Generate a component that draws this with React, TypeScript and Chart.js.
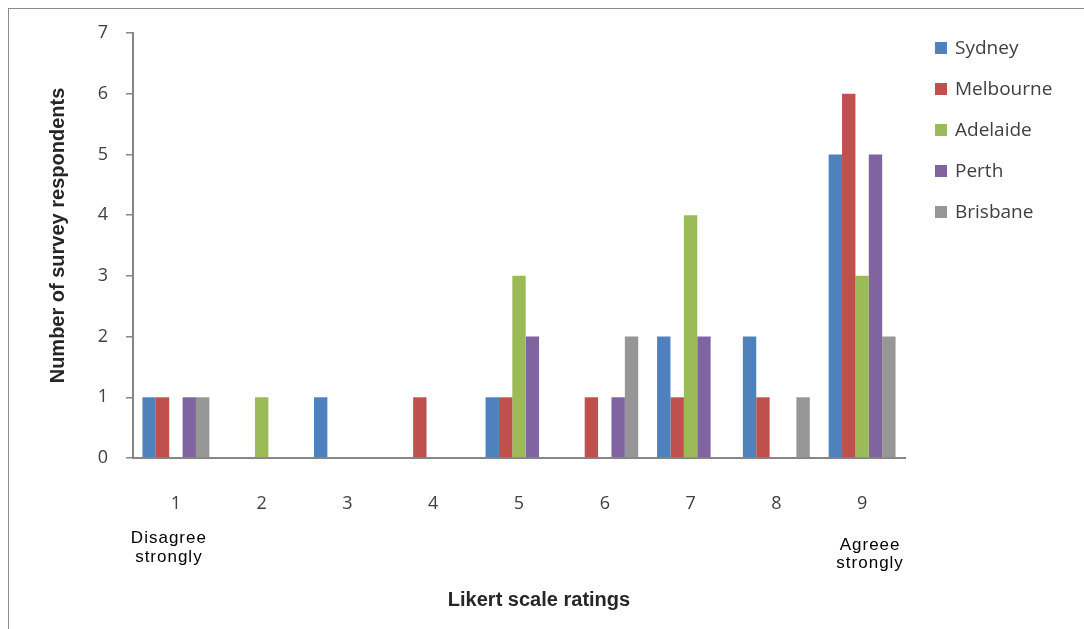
import React, { useEffect, useRef } from "react";
import { Chart, registerables } from "chart.js";

Chart.register(...registerables);

const ratings = ["1", "2", "3", "4", "5", "6", "7", "8", "9"];
const cities = ["Sydney", "Melbourne", "Adelaide", "Perth", "Brisbane"];
const sydney = [1, 0, 1, 0, 1, 0, 2, 2, 5];
const melbourne = [1, 0, 0, 1, 1, 1, 1, 1, 6];
const adelaide = [0, 1, 0, 0, 3, 0, 4, 0, 3];
const perth = [1, 0, 0, 0, 2, 1, 2, 0, 5];
const brisbane = [1, 0, 0, 0, 0, 2, 0, 1, 2];
const cityColors = ["#4F81BD", "#C0504D", "#9BBB59", "#8064A2", "#969696"];
const yTicks = [0, 1, 2, 3, 4, 5, 6, 7];
const lowAnchor = ["Disagree", "strongly"];
const highAnchor = ["Agreee", "strongly"];
const xTitle = "Likert scale ratings";
const yTitle = "Number of survey respondents";

const AXIS_GRAY = "#868686";
const TEXT_GRAY = "#404040";
const TITLE_COLOR = "#262626";
const LABEL_FONT = "'Open Sans', Lato, sans-serif";
const TITLE_FONT = "'Liberation Sans', Arial, sans-serif";

// Draws the legend column, scale anchor captions and both axis titles.
const extrasPlugin = {
  id: "surveyExtras",
  afterDraw(chart: any) {
    const { ctx, chartArea } = chart;
    const x = chart.scales.x;

    ctx.save();
    // legend
    ctx.font = `19px ${LABEL_FONT}`;
    ctx.textBaseline = "middle";
    ctx.textAlign = "left";
    chart.data.datasets.forEach((ds: any, i: number) => {
      const cy = chartArea.top + 15 + i * 41;
      const bx = chartArea.right + 30;
      ctx.fillStyle = ds.backgroundColor;
      ctx.fillRect(bx, cy - 6, 12, 12);
      ctx.fillStyle = TEXT_GRAY;
      ctx.fillText(ds.label, bx + 20, cy + 1);
    });

    // anchor captions under the first and last ratings
    ctx.font = `17px ${TITLE_FONT}`;
    (ctx as any).letterSpacing = "1px";
    ctx.fillStyle = "#000";
    ctx.textAlign = "center";
    const lowX = x.getPixelForValue(0) - 7;
    const highX = x.getPixelForValue(ratings.length - 1) + 8;
    lowAnchor.forEach((t, i) => ctx.fillText(t, lowX, chartArea.bottom + 80 + i * 19));
    highAnchor.forEach((t, i) => ctx.fillText(t, highX, chartArea.bottom + 87 + i * 18));
    (ctx as any).letterSpacing = "0px";

    // axis titles
    ctx.font = `bold 20px ${TITLE_FONT}`;
    ctx.fillStyle = TITLE_COLOR;
    ctx.fillText(xTitle, (chartArea.left + chartArea.right) / 2 + 20, chartArea.bottom + 142);
    ctx.translate(49, (chartArea.top + chartArea.bottom) / 2 - 10);
    ctx.rotate(-Math.PI / 2);
    ctx.fillText(yTitle, 0, 0);
    ctx.restore();
  },
};

export default function App() {
  const canvasRef = useRef<HTMLCanvasElement>(null);

  useEffect(() => {
    const series = [sydney, melbourne, adelaide, perth, brisbane];
    const chart = new Chart(canvasRef.current as HTMLCanvasElement, {
      type: "bar",
      data: {
        labels: ratings,
        datasets: cities.map((name, i) => ({
          label: name,
          data: series[i],
          backgroundColor: cityColors[i],
          borderWidth: 0,
          categoryPercentage: 0.78,
          barPercentage: 1,
        })),
      },
      options: {
        animation: false,
        responsive: true,
        maintainAspectRatio: false,
        layout: { padding: { top: 24, right: 179, left: 0, bottom: 0 } },
        plugins: {
          legend: { display: false },
          tooltip: { enabled: false },
        },
        scales: {
          x: {
            grid: { display: false, drawTicks: false },
            border: { display: true, color: AXIS_GRAY, width: 2 },
            ticks: {
              padding: 35,
              color: TEXT_GRAY,
              font: { family: LABEL_FONT, size: 18 },
            },
            afterFit(scale: any) {
              scale.height = 171;
              scale.paddingLeft = 0;
              scale.paddingRight = 0;
            },
          },
          y: {
            min: 0,
            max: 7,
            afterBuildTicks(scale: any) {
              scale.ticks = yTicks.map((v) => ({ value: v }));
            },
            grid: {
              drawOnChartArea: false,
              drawTicks: true,
              tickLength: 7,
              color: AXIS_GRAY,
              lineWidth: 1.5,
            },
            border: { display: true, color: AXIS_GRAY, width: 2 },
            ticks: {
              padding: 18,
              color: TEXT_GRAY,
              font: { family: LABEL_FONT, size: 18 },
            },
            afterFit(scale: any) {
              scale.width = 124;
              scale.paddingTop = 0;
              scale.paddingBottom = 0;
            },
          },
        },
      },
      plugins: [extrasPlugin],
    });
    return () => chart.destroy();
  }, []);

  return (
    <div
      style={{
        position: "fixed",
        left: 8,
        top: 8,
        width: 1076,
        height: 621,
        boxSizing: "border-box",
        borderLeft: "1px solid #8c8c8c",
        borderTop: "1px solid #8c8c8c",
        background: "#fff",
      }}
    >
      <canvas ref={canvasRef} />
    </div>
  );
}
